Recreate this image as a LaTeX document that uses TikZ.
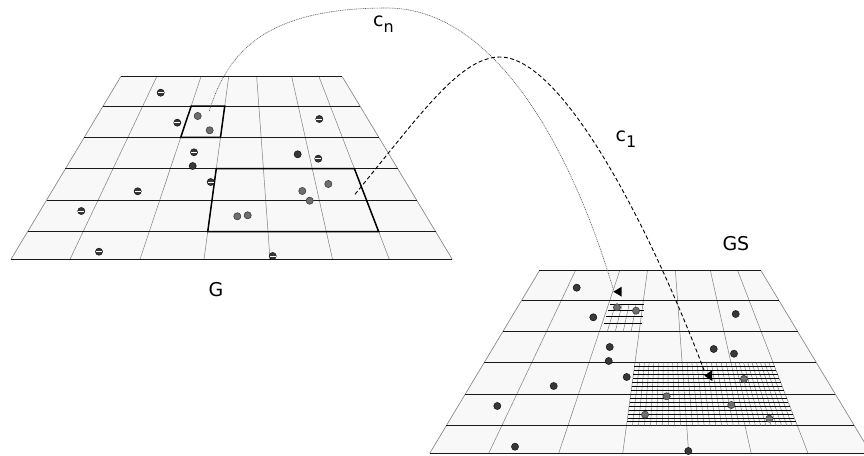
\documentclass[tikz,border=0pt]{standalone}
\usepackage{fontspec}
\setmainfont{DejaVu Sans}
\usetikzlibrary{calc}
\definecolor{planefill}{HTML}{F8F8F8}
\definecolor{dotdarkc}{HTML}{383838}
\definecolor{dotgrayc}{HTML}{6E6E6E}
\definecolor{vgray}{HTML}{7E7E7E}
\tikzset{
  hline/.style={draw=black!90, line width=0.8pt},
  vline/.style={draw=vgray, line width=0.5pt},
  edgeline/.style={draw=vgray, line width=0.6pt},
  boldcell/.style={draw=black, line width=1.5pt, line join=miter},
  fineh/.style={draw=black, line width=0.6pt},
  finev/.style={draw=black!55, line width=0.45pt},
  cnline/.style={draw=black!65, line width=0.6pt, dash pattern=on 1pt off 0.8pt},
  coneline/.style={draw=black, line width=0.9pt, dash pattern=on 4pt off 2.5pt},
  lbl/.style={font=\fontsize{19}{19}\selectfont, inner sep=0pt, anchor=base west},
  darkdot/.style={fill=dotdarkc, draw=black, line width=0.4pt},
  graydot/.style={fill=dotgrayc, draw=black!80, line width=0.5pt},
}
\newcommand\planecoords{%
  \coordinate (T0) at (120.7,76.7); \coordinate (B0) at (11,259.3);
  \coordinate (T1) at (156.7,76.7); \coordinate (B1) at (70,259.3);
  \coordinate (T2) at (201,76.7);   \coordinate (B2) at (140,259.3);
  \coordinate (T3) at (228.7,76.7); \coordinate (B3) at (204,259.3);
  \coordinate (T4) at (256.7,76.7); \coordinate (B4) at (270,259.3);
  \coordinate (T5) at (291.7,76.7); \coordinate (B5) at (332.5,259.3);
  \coordinate (T6) at (319,76.7);   \coordinate (B6) at (389.3,259.3);
  \coordinate (T7) at (342.3,76.7); \coordinate (B7) at (452.3,259.3);
}
\newcommand\drawplane{%
  \planecoords
  \fill[planefill] (T0) -- (T7) -- (B7) -- (B0) -- cycle;
  \foreach \i in {1,...,6} {\draw[vline] (T\i) -- (B\i);}
  \draw[edgeline] (T0) -- (B0);
  \draw[edgeline] (T7) -- (B7);
  \foreach \hf in {0,0.16046,0.33187,0.50383,0.67525,0.84885,1} {%
    \draw[hline] ($(T0)!\hf!(B0)$) -- ($(T7)!\hf!(B7)$);
  }
}
\newcommand\dotS[2]{%
  \filldraw[darkdot] (#1,#2) circle[radius=3.6pt];
  \draw[white, line width=1pt] (#1,#2) ++(-2.9,0) -- ++(5.8,0);
}
\newcommand\dotD[2]{\filldraw[darkdot] (#1,#2) circle[radius=3.6pt];}
\newcommand\dotG[2]{\filldraw[graydot] (#1,#2) circle[radius=3.6pt];}
\begin{document}
\begin{tikzpicture}[x=1pt,y=-1pt]
\useasboundingbox (0,0) rectangle (864,455);
% ---------------- left plane G
\drawplane
\draw[boldcell] ($(T2)!0.16046!(B2)$) -- ($(T3)!0.16046!(B3)$) -- ($(T3)!0.33187!(B3)$) -- ($(T2)!0.33187!(B2)$) -- cycle;
\draw[boldcell] ($(T3)!0.50383!(B3)$) -- ($(T6)!0.50383!(B6)$) -- ($(T6)!0.84885!(B6)$) -- ($(T3)!0.84885!(B3)$) -- cycle;
\foreach \x/\y in {160.7/92.7,177.3/122.7,319.3/119,194/152.3,318.3/158.7,210.7/182,137.7/191.3,81.3/211,99/251.7,272.7/256}
  {\dotS{\x}{\y}}
\foreach \x/\y in {192.7/166,297.7/154.3} {\dotD{\x}{\y}}
\foreach \x/\y in {197.7/116,209.7/130.3,302.3/191,328.3/184,309.7/200.7,237.3/216.3,247.7/215.3} {\dotG{\x}{\y}}
% ---------------- right plane GS
\begin{scope}[shift={(418.7,194)}]
\drawplane
\foreach \k in {1,...,4} {%
  \pgfmathsetmacro\fs{\k/5}%
  \coordinate (sT) at ($(T2)!\fs!(T3)$);
  \coordinate (sB) at ($(B2)!\fs!(B3)$);
  \draw[finev] ($(sT)!0.18511!(sB)$) -- ($(sT)!0.33187!(sB)$);
}
\foreach \fh in {0.18511,0.21851,0.25192,0.28532} {%
  \draw[fineh] ($(T2)!\fh!(B2)+(1.5,0)$) -- ($(T3)!\fh!(B3)+(1.5,0)$);
}
\foreach \c/\cn in {3/4,4/5,5/6} {%
  \foreach \k in {1,...,9} {%
    \pgfmathsetmacro\fs{\k/10}%
    \coordinate (sT) at ($(T\c)!\fs!(T\cn)$);
    \coordinate (sB) at ($(B\c)!\fs!(B\cn)$);
    \draw[finev] ($(sT)!0.50383!(sB)$) -- ($(sT)!0.84885!(sB)$);
  }
}
\foreach \m in {1,...,15} {%
  \pgfmathsetmacro\fh{0.50383+\m*0.0215638}%
  \draw[fineh] ($(T3)!\fh!(B3)$) -- ($(T6)!\fh!(B6)$);
}
\end{scope}
\foreach \x/\y in {576.7/287.7,593.3/317.3,609.7/347,608.7/361,626.7/377,553.7/386,497.3/406,515/446.7,735.7/314,713.7/349,734/353.7,688.3/451}
  {\dotD{\x}{\y}}
\foreach \x/\y in {617/307.3,636/310.7,744/379,666.7/396.3,731.3/405,645/414.7,769.3/418.7} {\dotG{\x}{\y}}
% ---------------- labels
\node[lbl] (lblG) at (208.3,296) {G};
\node[lbl] (lblGS) at (722.3,250.7) {GS};
\node[lbl] (lblcn) at (373,26.7) {c\raisebox{-6pt}{\fontsize{16}{16}\selectfont n}};
\node[lbl] (lblcone) at (615.5,141.7) {c\raisebox{-6pt}{\fontsize{16}{16}\selectfont 1}};
% ---------------- connectors
\coordinate (cnStart) at (209.3,111);
\coordinate (cnTop) at (387,8);
\coordinate (cnEnd) at (613.5,290);
\coordinate (cnTip) at (613.3,291.7);
\draw[cnline] (cnStart) .. controls (228,50) and (268,8) .. (cnTop)
  .. controls (495,8) and (572,150) .. (cnEnd);
\fill (cnTip) -- ++(8.4,-5) -- ++(0,10) -- cycle;
\coordinate (coneStart) at (355,194.3);
\coordinate (coneTop) at (500,57);
\coordinate (coneEnd) at (704,370);
\coordinate (coneTip) at (704.3,375.7);
\draw[coneline] (coneStart) .. controls (420,115) and (460,57) .. (coneTop)
  .. controls (560,57) and (645,215) .. (coneEnd);
\fill (coneTip) -- ++(7.7,-5.4) -- ++(0.3,10.7) -- cycle;
\end{tikzpicture}
\end{document}
